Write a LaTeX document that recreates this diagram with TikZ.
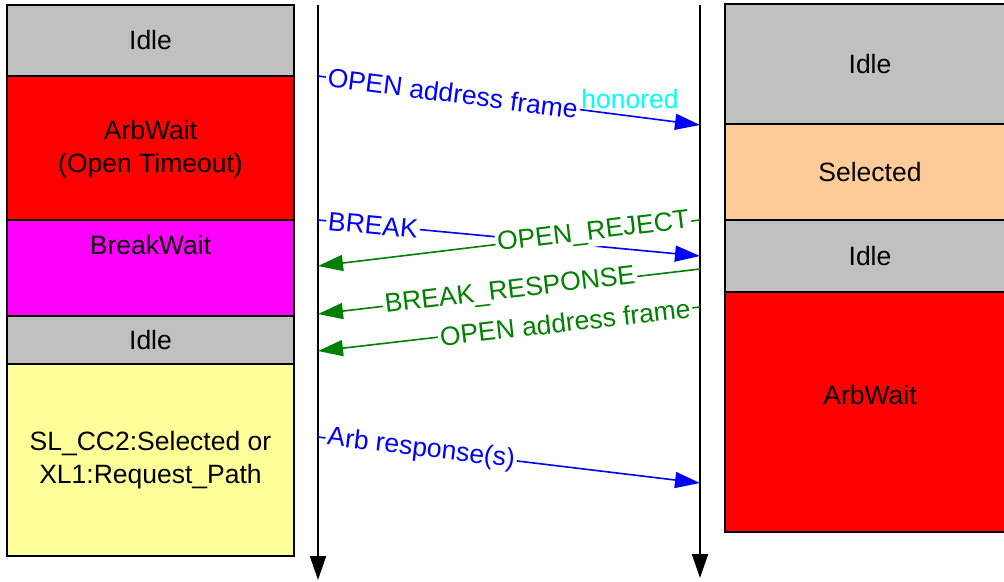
\documentclass[tikz,border=0pt]{standalone}
\usepackage{fontspec}
\setmainfont{Liberation Sans}
\usetikzlibrary{arrows.meta}
\definecolor{idlegray}{HTML}{C0C0C0}
\definecolor{arbred}{HTML}{FF0000}
\definecolor{brkmag}{HTML}{FF00FF}
\definecolor{selyel}{HTML}{FFFF99}
\definecolor{selpeach}{HTML}{FFCC99}
\definecolor{msggreen}{HTML}{008000}
\definecolor{msgblue}{HTML}{0000FF}
\definecolor{honcyan}{HTML}{00FFFF}
\tikzset{
  statebox/.style={draw=black, line width=1.5pt, rectangle, inner sep=0pt, align=center,
    font=\fontsize{26.5}{32.5}\selectfont},
  lbox/.style={statebox, minimum width=287pt},
  rbox/.style={statebox, minimum width=290pt},
  lifeline/.style={line width=2pt, -{Triangle[length=24pt,width=16pt]}},
  msg/.style={line width=1.6pt, -{Triangle[length=25pt,width=16pt]}},
  msgb/.style={msg, draw=msgblue},
  msgg/.style={msg, draw=msggreen},
  lbl/.style={sloped, fill=white, inner sep=2pt, font=\fontsize{26.5}{30}\selectfont},
  lblb/.style={lbl, text=msgblue},
  lblg/.style={lbl, text=msggreen},
}
\begin{document}
\begin{tikzpicture}[x=1pt, y=-1pt]
\useasboundingbox (0,0) rectangle (1004,581);
% left states
\node[lbox, fill=idlegray, minimum height=71pt] (L1) at (150.5,40.5) {Idle};
\node[lbox, fill=arbred, minimum height=144pt, text depth=3pt] (L2) at (150.5,148) {ArbWait\\(Open Timeout)};
\node[lbox, fill=brkmag, minimum height=96pt,
  label={[anchor=base, yshift=-35pt, font=\fontsize{26.5}{32.5}\selectfont]north:BreakWait}] (L3) at (150.5,268) {};
\node[lbox, fill=idlegray, minimum height=48pt] (L4) at (150.5,340) {Idle};
\node[lbox, fill=selyel, minimum height=192pt] (L5) at (150.5,460) {SL\_CC2:Selected or\\XL1:Request\_Path};
% right states (box runs past the right edge of the picture)
\node[rbox, fill=idlegray, minimum height=120pt] (R1) at (870,64) {Idle};
\node[rbox, fill=selpeach, minimum height=96pt] (R2) at (870,172) {Selected};
\node[rbox, fill=idlegray, minimum height=72pt] (R3) at (870,256) {Idle};
\node[rbox, fill=arbred, minimum height=240pt,
  label={[anchor=base, yshift=-113pt, font=\fontsize{26.5}{32.5}\selectfont]north:ArbWait}] (R4) at (870,412) {};
% lifelines
\coordinate (LLtop) at (318,5);
\coordinate (LLbot) at (318,580);
\coordinate (RLtop) at (700,5);
\coordinate (RLbot) at (700,578);
\draw[lifeline] (LLtop) -- (LLbot);
\draw[lifeline] (RLtop) -- (RLbot);
% message end points
\coordinate (m1a) at (318,76);  \coordinate (m1b) at (700,125);
\coordinate (m2a) at (318,220); \coordinate (m2b) at (700,256);
\coordinate (m3a) at (700,220); \coordinate (m3b) at (318,266);
\coordinate (m4a) at (700,269); \coordinate (m4b) at (318,314);
\coordinate (m5a) at (700,307); \coordinate (m5b) at (318,351);
\coordinate (m6a) at (318,437); \coordinate (m6b) at (700,483);
% messages
\draw[msgb] (m1a) -- node[lblb, pos=0.353] (t1) {OPEN address frame} (m1b);
\node[text=honcyan, inner sep=0pt, font=\fontsize{26.5}{30}\selectfont] (hon) at (630,99) {honored};
\draw[msgb] (m2a) -- node[lblb, pos=0.144] (t2) {BREAK} (m2b);
\draw[msgg] (m3a) -- node[lblg, pos=0.279] (t3) {OPEN\_REJECT} (m3b);
\draw[msgg] (m4a) -- node[lblg, pos=0.497] (t4) {BREAK\_RESPONSE} (m4b);
\draw[msgg] (m5a) -- node[lblg, pos=0.353] (t5) {OPEN address frame} (m5b);
\draw[msgb] (m6a) -- node[lblb, pos=0.27] (t6) {Arb response(s)} (m6b);
\end{tikzpicture}
\end{document}
